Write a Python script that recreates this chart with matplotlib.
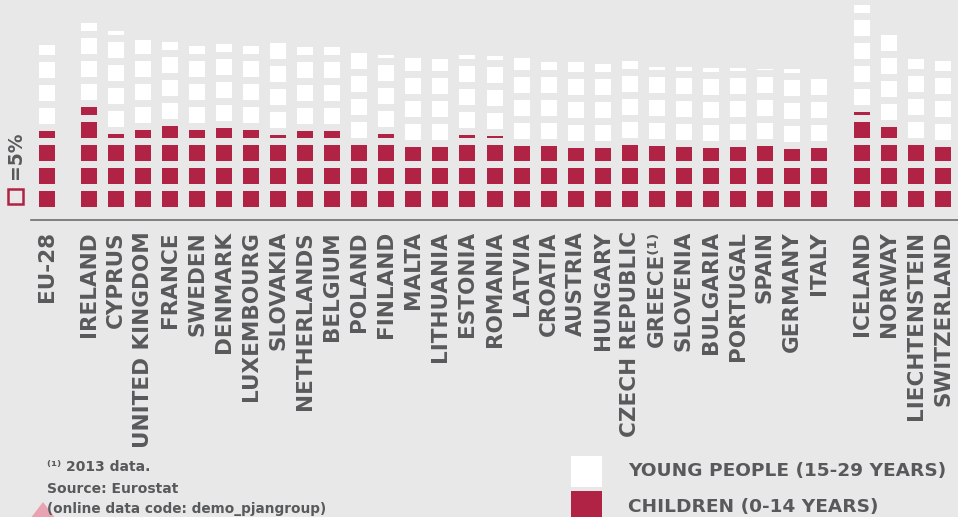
import numpy as np
import matplotlib.pyplot as plt
from matplotlib.patches import Rectangle, Polygon

# share of population by age group, % (each block = 5 %)
countries = ["EU-28", "IRELAND", "CYPRUS", "UNITED KINGDOM", "FRANCE", "SWEDEN",
             "DENMARK", "LUXEMBOURG", "SLOVAKIA", "NETHERLANDS", "BELGIUM", "POLAND",
             "FINLAND", "MALTA", "LITHUANIA", "ESTONIA", "ROMANIA", "LATVIA", "CROATIA",
             "AUSTRIA", "HUNGARY", "CZECH REPUBLIC", "GREECE⁽¹⁾", "SLOVENIA", "BULGARIA",
             "PORTUGAL", "SPAIN", "GERMANY", "ITALY",
             "ICELAND", "NORWAY", "LIECHTENSTEIN", "SWITZERLAND"]
children = [17.2, 22.5, 16.3, 17.5, 18.8, 17.5, 18.1, 17.5, 15.9, 17.2, 17.2, 15.0,
            16.3, 14.4, 14.4, 15.9, 15.6, 14.7, 14.7, 14.1, 14.1, 15.0, 14.7, 14.4,
            14.1, 14.4, 14.7, 13.8, 14.1,
            20.9, 18.4, 15.0, 14.4]
young = [18.1, 17.5, 21.3, 19.4, 17.5, 17.5, 17.5, 17.5, 20.0, 17.5, 17.5, 20.0,
         16.0, 19.1, 18.8, 16.3, 16.3, 18.8, 17.5, 18.1, 17.5, 17.5, 16.0, 16.3,
         16.3, 16.0, 15.3, 16.3, 15.0,
         22.5, 20.0, 18.1, 18.1]

BLOCK = 5.0
RED = "#B02344"
GREY = "#58595B"
BG = "#E8E8E8"

# block geometry in units of one block pitch
H = 16 / 23      # block height
GAP = 7 / 23     # space between blocks
W = 16 / 27.04   # block width

# x positions: EU-28, then EU members, then EFTA countries
xpos = []
x = 0.0
for i in range(len(countries)):
    if i == 1:
        x += 0.55
    if i == 29:
        x += 0.59
    xpos.append(x)
    x += 1


def draw_column(ax, x, value, start, color):
    n = value / BLOCK
    top = start
    for i in range(int(np.ceil(n - 1e-9))):
        frac = min(1.0, n - i)
        ax.bar(x, frac * H, bottom=start + i, width=W, color=color, linewidth=0)
        top = start + i + frac * H
    return top


fig = plt.figure(figsize=(9.58, 5.17), dpi=100)
fig.patch.set_facecolor(BG)

ax = fig.add_axes([31 / 958, 1 - 220 / 517, 927 / 958, 220 / 517])
ax.set_facecolor("none")
for xc, c, y in zip(xpos, children, young):
    top = draw_column(ax, xc, c, 0.0, RED)
    draw_column(ax, xc, y, top + GAP, "white")

ax.set_xlim(-16 / 27.04, 911 / 27.04)
ax.set_ylim(-13 / 23, 207 / 23)
ax.set_yticks([])
ax.set_xticks(xpos)
ax.set_xticklabels(countries, rotation=90, fontsize=15.5, fontweight="heavy", color=GREY)
ax.tick_params(axis="x", length=0, pad=8)
for s in ["top", "right", "left"]:
    ax.spines[s].set_visible(False)
ax.spines["bottom"].set_color("#6D6E70")
ax.spines["bottom"].set_linewidth(1.2)

# overlay in pixel coordinates for key and notes
ov = fig.add_axes([0, 0, 1, 1])
ov.set_xlim(0, 958)
ov.set_ylim(517, 0)
ov.axis("off")
ov.patch.set_alpha(0)

ov.add_patch(Rectangle((8, 189), 15, 15, facecolor="none", edgecolor=RED, linewidth=1.8))
ov.text(15.5, 155, "=5%", rotation=90, ha="center", va="center",
        fontsize=13.5, fontweight="bold", color=GREY)

ov.add_patch(Polygon([(43, 502), (30, 519), (56, 519)], closed=True,
                     facecolor="#E8A2B2", edgecolor="none"))
ov.text(47, 467, "⁽¹⁾ 2013 data.", ha="left", va="center", fontsize=10,
        fontweight="bold", color=GREY)
ov.text(47, 489, "Source: Eurostat", ha="left", va="center", fontsize=10,
        fontweight="bold", color=GREY)
ov.text(47, 509, "(online data code: demo_pjangroup)", ha="left", va="center",
        fontsize=9.8, fontweight="bold", color=GREY)

ov.add_patch(Rectangle((571, 456), 31, 31, facecolor="white", edgecolor="none"))
ov.add_patch(Rectangle((571, 491), 31, 31, facecolor=RED, edgecolor="none"))
ov.text(628, 471.5, "YOUNG PEOPLE (15-29 YEARS)", ha="left", va="center",
        fontsize=13.3, fontweight="bold", color=GREY)
ov.text(628, 506.5, "CHILDREN (0-14 YEARS)", ha="left", va="center",
        fontsize=13.3, fontweight="bold", color=GREY)

plt.savefig("out.png", dpi=100, facecolor=BG)
